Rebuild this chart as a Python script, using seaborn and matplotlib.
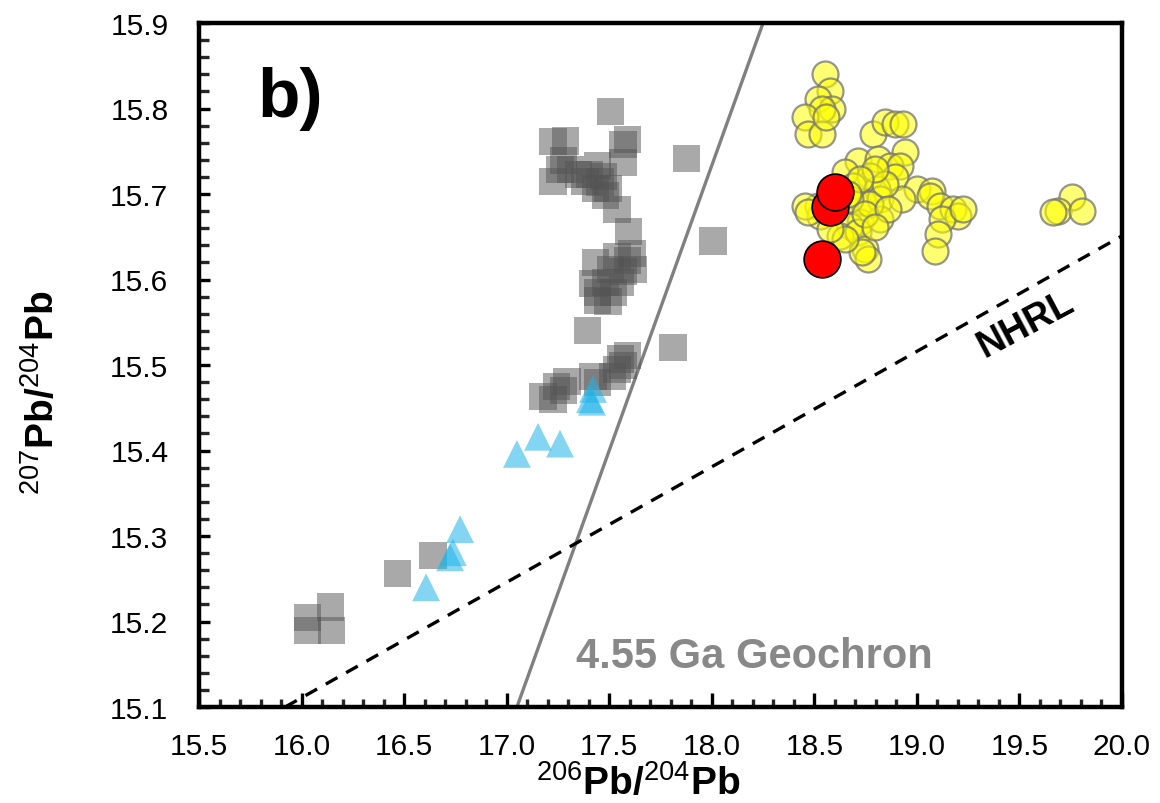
import matplotlib
matplotlib.use("Agg")
import matplotlib.pyplot as plt
from matplotlib.ticker import MultipleLocator
import seaborn as sns

# --- data -------------------------------------------------------------
# grey squares
sq_x = [17.504, 17.226, 17.285, 17.587, 17.567, 17.567, 17.275, 17.226, 17.309, 17.382,
        17.441, 17.470, 17.431, 17.480, 17.538, 17.592, 17.879, 18.006, 17.260, 17.348,
        17.406, 17.455, 17.494,
        17.538, 17.587, 17.504, 17.567, 17.480, 17.553, 17.441, 17.519, 17.441, 17.494,
        17.421, 17.616, 17.431, 17.611,
        17.392, 17.811, 17.553, 17.538, 17.514, 17.587, 17.567, 17.245, 17.275, 17.177,
        17.226, 17.294, 17.441, 17.421,
        16.641, 16.470, 16.027, 16.139, 16.027, 16.148]
sq_y = [15.796, 15.761, 15.762, 15.764, 15.758, 15.737, 15.739, 15.715, 15.729, 15.715,
        15.733, 15.721, 15.706, 15.698, 15.682, 15.656, 15.741, 15.645, 15.729, 15.723,
        15.723, 15.714, 15.706,
        15.627, 15.622, 15.612, 15.609, 15.597, 15.597, 15.585, 15.585, 15.575, 15.574,
        15.595, 15.612, 15.620, 15.630,
        15.540, 15.521, 15.507, 15.495, 15.487, 15.511, 15.499, 15.475, 15.470, 15.463,
        15.460, 15.481, 15.480, 15.487,
        15.277, 15.256, 15.205, 15.217, 15.189, 15.189]

# blue triangles
tri_x = [17.421, 17.406, 17.416, 17.050, 17.153, 17.260, 16.773, 16.738, 16.724, 16.607]
tri_y = [15.472, 15.460, 15.457, 15.396, 15.416, 15.408, 15.308, 15.281, 15.275, 15.240]

# yellow circles
yc_x = [18.552, 18.577, 18.518, 18.586, 18.538, 18.455, 18.469, 18.538, 18.557, 18.786,
        18.845, 18.893, 18.932, 18.942, 18.713, 18.811, 18.869, 18.918, 18.650, 18.772,
        18.893, 18.689, 18.806, 19.001, 19.074, 19.064, 18.518, 18.737, 18.820, 18.928,
        19.113, 19.176, 19.201, 19.123, 18.528, 18.723, 18.820, 18.674, 18.625, 18.713,
        19.103, 19.089, 18.747, 18.762, 18.733, 19.225, 19.756, 19.688, 19.805, 19.664,
        18.772, 18.845, 18.674, 18.796, 18.723, 18.455, 18.470,
        18.664, 18.747, 18.859, 18.796, 18.650, 18.577]
yc_y = [15.840, 15.820, 15.811, 15.799, 15.799, 15.790, 15.770, 15.770, 15.790, 15.770,
        15.784, 15.782, 15.782, 15.749, 15.739, 15.741, 15.733, 15.733, 15.726, 15.721,
        15.720, 15.709, 15.706, 15.706, 15.704, 15.698, 15.686, 15.691, 15.694, 15.694,
        15.686, 15.682, 15.674, 15.671, 15.674, 15.667, 15.671, 15.663, 15.651, 15.656,
        15.653, 15.633, 15.636, 15.624, 15.632, 15.682, 15.696, 15.680, 15.680, 15.679,
        15.688, 15.712, 15.694, 15.729, 15.718, 15.686, 15.679,
        15.700, 15.677, 15.682, 15.661, 15.647, 15.659]

# red circles
rc_x = [18.538, 18.577, 18.601]
rc_y = [15.624, 15.685, 15.702]

# reference lines
geochron_x = [17.05, 18.25]
geochron_y = [15.10, 15.90]
nhrl_x = [15.92, 20.00]
nhrl_y = [15.10, 15.651]

x_ticks = [15.5, 16.0, 16.5, 17.0, 17.5, 18.0, 18.5, 19.0, 19.5, 20.0]
y_ticks = [15.1, 15.2, 15.3, 15.4, 15.5, 15.6, 15.7, 15.8, 15.9]

# --- style ------------------------------------------------------------
sns.set_theme(style="ticks")
plt.rcParams["font.family"] = ["Liberation Sans", "DejaVu Sans"]
plt.rcParams["mathtext.fontset"] = "custom"
plt.rcParams["mathtext.rm"] = "Liberation Sans"
plt.rcParams["mathtext.default"] = "rm"

fig = plt.figure(figsize=(11.6, 8.04), dpi=100)
ax = fig.add_axes([199 / 1160, 96 / 804, 923 / 1160, 684 / 804])

# reference lines
sns.lineplot(x=geochron_x, y=geochron_y, ax=ax, color="#808080", linewidth=2.4,
             estimator=None, sort=False, zorder=1)
sns.lineplot(x=nhrl_x, y=nhrl_y, ax=ax, color="black", linewidth=2.4,
             linestyle=(0, (4, 3)), estimator=None, sort=False, zorder=1)

# data points
sns.scatterplot(x=sq_x, y=sq_y, ax=ax, marker="s", s=380,
                facecolor=(0.33, 0.33, 0.33, 0.5), edgecolor="none", linewidth=0,
                zorder=2)
sns.scatterplot(x=tri_x, y=tri_y, ax=ax, marker="^", s=400,
                facecolor=(0.12, 0.70, 0.91, 0.55), edgecolor="none", linewidth=0,
                zorder=3)
sns.scatterplot(x=yc_x, y=yc_y, ax=ax, marker="o", s=350,
                facecolor=(1.0, 1.0, 0.0, 0.55), edgecolor=(0.45, 0.45, 0.45, 0.75),
                linewidth=1.6, zorder=4)
sns.scatterplot(x=rc_x, y=rc_y, ax=ax, marker="o", s=700,
                facecolor="#ff0000", edgecolor="black", linewidth=1.2, zorder=5)

# axes
ax.set_xlim(15.5, 20.0)
ax.set_ylim(15.1, 15.9)
ax.set_xticks(x_ticks)
ax.set_yticks(y_ticks)
ax.set_xticklabels([f"{v:.1f}" for v in x_ticks])
ax.set_yticklabels([f"{v:.1f}" for v in y_ticks])
ax.xaxis.set_minor_locator(MultipleLocator(0.1))
ax.yaxis.set_minor_locator(MultipleLocator(0.02))
ax.tick_params(axis="x", which="major", direction="in", length=10, width=2.4,
               labelsize=21.5, pad=18, colors="black", top=False)
ax.tick_params(axis="x", which="minor", direction="in", length=6, width=2.4, top=False)
ax.tick_params(axis="y", which="major", direction="in", length=8, width=2.4,
               labelsize=21.5, pad=22, colors="black", right=False)
ax.tick_params(axis="y", which="minor", direction="in", length=7, width=2.4, right=False)
for side in ["left", "right", "top", "bottom"]:
    ax.spines[side].set_visible(True)
    ax.spines[side].set_linewidth(3.2)
    ax.spines[side].set_color("black")

ax.set_xlabel(r"$^{206}$Pb/$^{204}$Pb", fontsize=28, fontweight="bold", color="black")
ax.set_ylabel(r"$^{207}$Pb/$^{204}$Pb", fontsize=28, fontweight="bold", color="black")
ax.xaxis.set_label_coords(0.476, -0.082)
ax.yaxis.set_label_coords(-0.148, 0.46)

# annotations
ax.text(0.063, 0.89, "b)", transform=ax.transAxes, fontsize=50, fontweight="bold",
        ha="left", va="center", color="black")
ax.text(17.34, 15.16, "4.55 Ga Geochron", fontsize=30, fontweight="bold",
        color="#888888", ha="left", va="center")
ax.text(19.53, 15.548, "NHRL", fontsize=27, fontweight="bold", color="black",
        ha="center", va="center", rotation=28, rotation_mode="anchor")

fig.savefig("out.png", dpi=100)
